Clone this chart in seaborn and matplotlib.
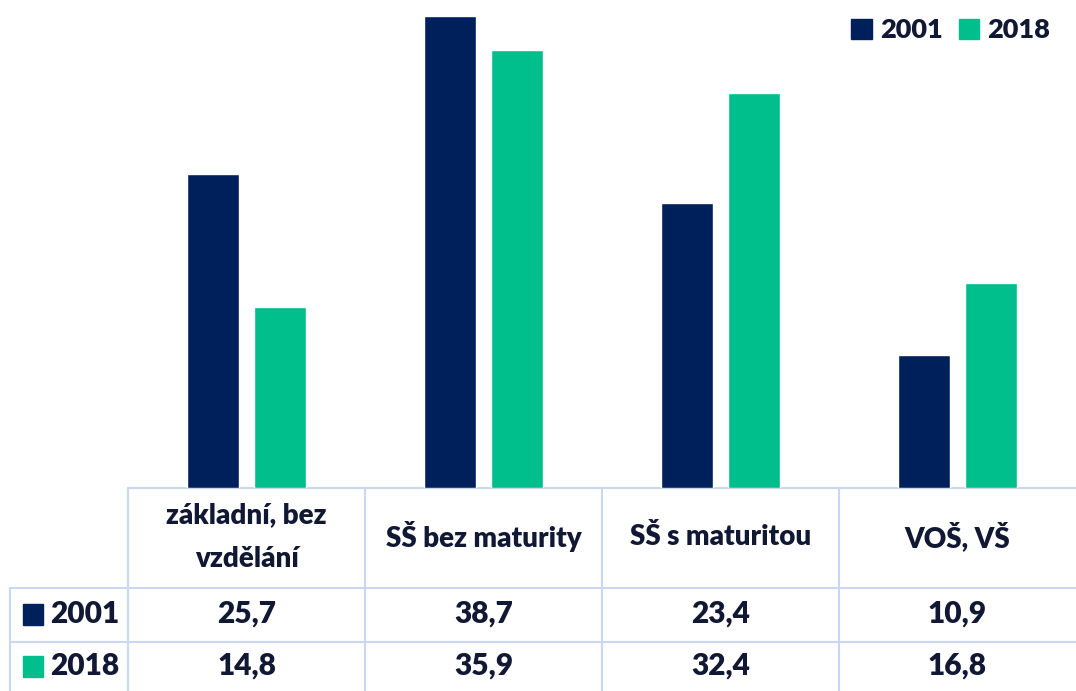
import pandas as pd
import seaborn as sns
import matplotlib.pyplot as plt
from matplotlib.patches import Rectangle

categories = ['základní, bez\nvzdělání', 'SŠ bez maturity', 'SŠ s maturitou', 'VOŠ, VŠ']
years = ['2001', '2018']
values_2001 = [25.7, 38.7, 23.4, 10.9]
values_2018 = [14.8, 35.9, 32.4, 16.8]

navy = '#00205B'
green = '#00BF8D'
ink = '#111833'
grid = '#CBD6F2'

df = pd.DataFrame({
    'kat': categories * 2,
    'rok': [years[0]] * 4 + [years[1]] * 4,
    'val': values_2001 + values_2018,
})

sns.set_style('white')
plt.rcParams['font.family'] = ['Lato', 'DejaVu Sans']
wt = 'heavy'

W, H = 1076, 691
fig = plt.figure(figsize=(W / 100, H / 100), dpi=100)
x0, base = 128, 488
ax = fig.add_axes([x0 / W, 1 - base / H, (W - x0) / W, base / H])

sns.barplot(data=df, x='kat', y='val', hue='rok', palette=[navy, green],
            width=0.565, gap=0.224, saturation=1, ax=ax, legend=False)
ax.set_xlim(-0.5, 3.5)
ax.set_ylim(0, 40)
ax.axis('off')

# legend
handles = [Rectangle((0, 0), 1, 1, color=c) for c in (navy, green)]
leg = ax.legend(handles, years, loc='upper right', ncol=2, frameon=False,
                handlelength=0.75, handleheight=0.75, handletextpad=0.3,
                columnspacing=0.6, borderaxespad=0.0,
                prop={'size': 19.5, 'weight': wt}, bbox_to_anchor=(0.984, 0.985))
for t in leg.get_texts():
    t.set_color(ink)

# table below the bars, in pixel coords
tab = fig.add_axes([0, 0, 1, 1], zorder=-1)
tab.set_xlim(0, W)
tab.set_ylim(H, 0)
tab.axis('off')

colw = (W - x0) / len(categories)
tab.plot([x0, W], [base, base], color=grid, lw=1.5)
for y in (588, 642):
    tab.plot([10, W], [y, y], color=grid, lw=1.5)
tab.plot([10, 10], [588, H], color=grid, lw=1.5)
for i in range(len(categories)):
    x = x0 + i * colw
    tab.plot([x, x], [base, H], color=grid, lw=1.5)

for i, cat in enumerate(categories):
    cx = x0 + (i + 0.5) * colw
    tab.text(cx, 537, cat, ha='center', va='center', fontsize=20,
             fontweight=wt, color=ink, linespacing=1.85)
    tab.text(cx, 614, f'{values_2001[i]:.1f}'.replace('.', ','), ha='center',
             va='center', fontsize=21.5, fontweight=wt, color=ink)
    tab.text(cx, 666, f'{values_2018[i]:.1f}'.replace('.', ','), ha='center',
             va='center', fontsize=21.5, fontweight=wt, color=ink)

for y, yr, c in ((614, years[0], navy), (666, years[1], green)):
    tab.add_patch(Rectangle((23, y - 10), 20, 21, color=c))
    tab.text(50, y, yr, ha='left', va='center', fontsize=21.5,
             fontweight=wt, color=ink)

fig.savefig('out.png', dpi=100)
